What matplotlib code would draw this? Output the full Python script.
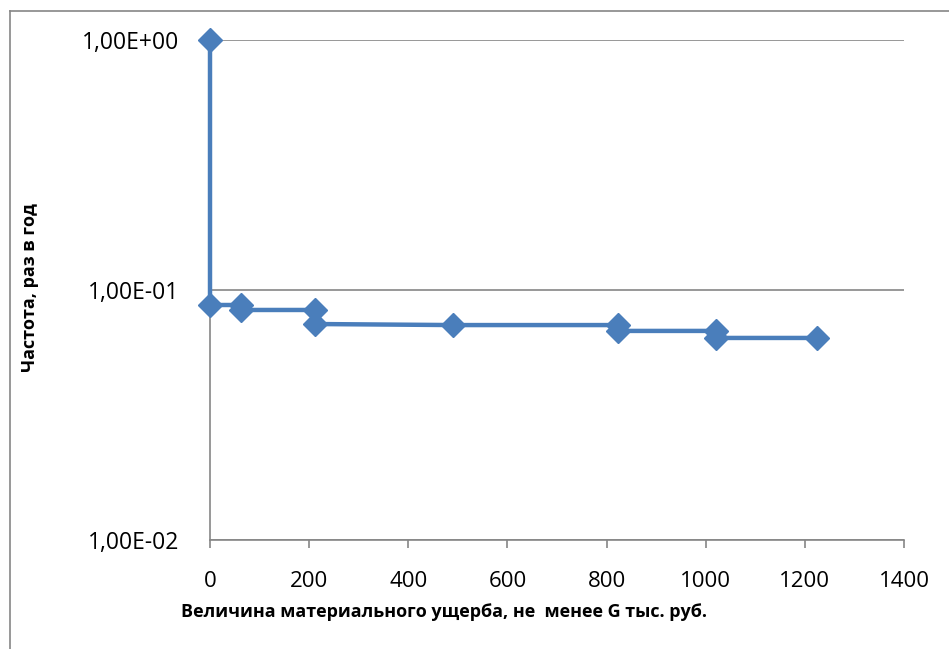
import matplotlib
matplotlib.use("Agg")
import matplotlib.pyplot as plt
from matplotlib.lines import Line2D
from matplotlib.ticker import FixedLocator, NullLocator

# damage G, thousand rub. (step curve, each point as in the source table)
damage = [0, 0, 63, 63, 212, 212, 490, 823, 823, 1020, 1020, 1224]
# frequency, times per year
freq = [1.0, 0.0871, 0.0871, 0.0832, 0.0832, 0.0731, 0.0724, 0.0724, 0.0686, 0.0686, 0.0643, 0.0643]

y_ticks = [0.01, 0.1, 1.0]
y_tick_labels = ["1,00E-02", "1,00E-01", "1,00E+00"]
x_ticks = [0, 200, 400, 600, 800, 1000, 1200, 1400]

W, H = 949, 649
fig = plt.figure(figsize=(W / 100, H / 100), dpi=100)
ax = fig.add_axes([210 / W, 1 - 540 / H, 694 / W, 500 / H])

blue = "#4a7ebb"
gray = "#868686"
font = "Open Sans"

ax.plot(damage, freq, color=blue, lw=3.2, marker="D", ms=12.5,
        markerfacecolor=blue, markeredgecolor=blue, zorder=3, clip_on=False)

ax.set_yscale("log")
ax.set_ylim(0.01, 1.0)
ax.set_xlim(0, 1400)
ax.yaxis.set_major_locator(FixedLocator(y_ticks))
ax.yaxis.set_minor_locator(NullLocator())
ax.set_yticks(y_ticks, y_tick_labels)
ax.set_xticks(x_ticks, [str(v) for v in x_ticks])

ax.grid(axis="y", color=gray, lw=1.2)
ax.set_axisbelow(True)
for s in ("top", "right"):
    ax.spines[s].set_visible(False)
for s in ("left", "bottom"):
    ax.spines[s].set_color(gray)
    ax.spines[s].set_linewidth(1.2)
ax.tick_params(axis="x", direction="out", length=6, color=gray, width=1.2,
               labelsize=16, pad=16)
ax.tick_params(axis="y", length=0, labelsize=16.5, pad=22)
for lab in ax.get_xticklabels() + ax.get_yticklabels():
    lab.set_fontfamily(font)

fig.text(444 / W, 1 - 612 / H, "Величина материального ущерба, не  менее G тыс. руб.",
         ha="center", va="center", fontsize=13, fontweight="bold", family=font)
fig.text(30 / W, 1 - 288 / H, "Частота, раз в год", rotation=90,
         ha="center", va="center", fontsize=13, fontweight="bold", family=font)

# chart area border
fig.add_artist(Line2D([9.5 / W, 9.5 / W], [0, 1 - 11 / H], color=gray, lw=1.2))
fig.add_artist(Line2D([9.5 / W, 1], [1 - 11 / H, 1 - 11 / H], color=gray, lw=1.2))

fig.savefig("out.png", dpi=100)
